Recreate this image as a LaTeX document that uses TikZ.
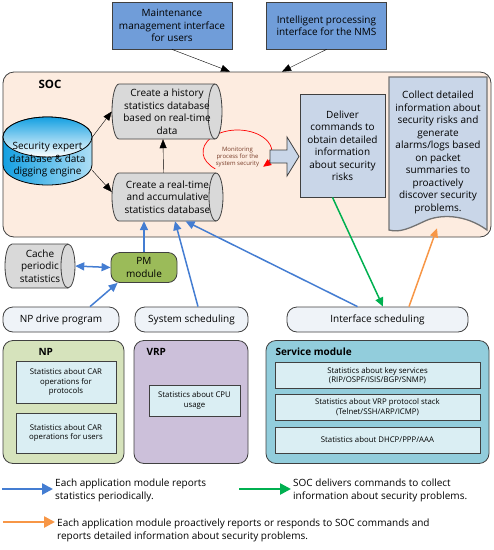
\documentclass[tikz,border=0pt]{standalone}
\usepackage{fontspec}
\setmainfont{Open Sans}
\usetikzlibrary{arrows.meta,calc,positioning,shapes.geometric}
\definecolor{TopBlue}{RGB}{112,157,217}
\definecolor{SocPeach}{RGB}{253,236,224}
\definecolor{CylGray}{RGB}{217,217,217}
\definecolor{SteelFill}{RGB}{201,214,232}
\definecolor{PMGreen}{RGB}{155,187,89}
\definecolor{SchedFill}{RGB}{239,243,248}
\definecolor{NPGreen}{RGB}{214,227,188}
\definecolor{VRPLilac}{RGB}{204,192,218}
\definecolor{SvcTeal}{RGB}{146,205,220}
\definecolor{StatFill}{RGB}{218,238,243}
\definecolor{ExpertCyan}{RGB}{20,160,226}
\definecolor{LineBlue}{RGB}{68,125,210}
\definecolor{LineGreen}{RGB}{0,176,80}
\definecolor{LineOrange}{RGB}{247,150,70}
\definecolor{DarkLine}{RGB}{64,64,64}
\definecolor{MonText}{RGB}{120,60,40}
\tikzset{
  topbox/.style={draw=DarkLine,fill=TopBlue,line width=.8pt,minimum width=120pt,minimum height=47pt,align=center,inner sep=0pt},
  drumline/.style={draw=DarkLine,fill=CylGray,line width=.8pt},
  steelbox/.style={draw=DarkLine,fill=SteelFill,line width=.8pt,align=center,inner sep=0pt},
  schedbox/.style={draw=DarkLine,fill=SchedFill,line width=.8pt,rounded corners=10pt,minimum height=25pt,inner sep=0pt},
  panel/.style={draw=DarkLine,line width=.8pt,rounded corners=10pt,minimum height=123pt},
  statbox/.style={draw=DarkLine,fill=StatFill,line width=.8pt,align=center,inner sep=0pt,font=\fontsize{7.8}{9.5}\selectfont},
  bluearrow/.style={LineBlue,line width=1.5pt,-{Triangle[length=9pt,width=8pt]}},
  blackarrow/.style={-{Triangle[length=9pt,width=7pt]}},
  legarrow/.style={line width=2.5pt,-{Triangle[length=11pt,width=11pt]}}
}
\newcommand{\panellabel}[3]{\node[font=\fontsize{10}{12}\selectfont\bfseries,anchor=west] (#1) at (#2) {#3};}
\newcommand{\drum}[6]{
\filldraw[drumline] ({#2-#4+7},{#3-#5}) -- ({#2+#4-7},{#3-#5}) arc[start angle=-90,end angle=90,x radius=7,y radius=#5] -- ({#2-#4+7},{#3+#5}) arc[start angle=90,end angle=270,x radius=7,y radius=#5] -- cycle;
\draw[drumline,fill=none] ({#2+#4-7},{#3-#5}) arc[start angle=270,end angle=90,x radius=7,y radius=#5];
\node[align=center,inner sep=0pt,minimum width={2*#4},minimum height={2*#5}] (#1) at (#2,#3) {#6};}

\begin{document}
\begin{tikzpicture}[x=1pt,y=-1pt,font=\fontsize{10}{12.5}\selectfont]
\useasboundingbox (0,0) rectangle (494,550);
\node[topbox] (mgmt) at (172,25.5) {Maintenance\\management interface\\for users};
\node[topbox] (nms) at (326.5,25.5) {Intelligent processing\\interface for the NMS};
\node[draw=DarkLine,fill=SocPeach,line width=.8pt,rounded corners=11pt,minimum width=488pt,minimum height=165pt] (soc) at (247,154.5) {};
\node[font=\fontsize{11.5}{13}\selectfont\bfseries] (soctitle) at (50,84) {SOC};
\draw[blackarrow] (mgmt.south) -- ([xshift=-17pt]soc.north);
\draw[blackarrow] (nms.south) -- ([xshift=35pt]soc.north);
\shadedraw[left color=ExpertCyan,right color=ExpertCyan!35,draw=black,line width=.8pt] (3,137) -- (3,165) arc[start angle=180,end angle=0,x radius=44.5,y radius=20] -- (92,137) arc[start angle=0,end angle=-180,x radius=44.5,y radius=20] -- cycle;
\shadedraw[top color=ExpertCyan,bottom color=white,draw=black,line width=.8pt] (47.5,137) ellipse[x radius=44.5,y radius=20];
\node[align=center,minimum width=89pt,minimum height=50pt,inner sep=0pt] (expert) at (47.5,160) {Security expert\\database \& data\\digging engine};
\node[font=\fontsize{6}{7.2}\selectfont,text=MonText,align=center,inner sep=0pt] (monitor) at (237.5,157) {Monitoring\\process for the\\system security};
\draw[red,line width=.7pt,-{Triangle[length=8pt,width=7pt]}] (monitor.center) ++(0,-5) ++(130:34.5 and 22) arc[start angle=130,end angle=402,x radius=34.5,y radius=22];
\drum{history}{167}{111.5}{55}{27.5}{Create a history\\statistics database\\based on real-time\\data}
\drum{realtime}{167.5}{197}{55.5}{24}{Create a real-time\\and accumulative\\statistics database}
\draw[blackarrow] (expert.27) -- (history.west);
\draw[blackarrow] (expert.-13) -- ([yshift=5pt]realtime.west);
\draw[blackarrow] ([xshift=-4pt]realtime.north) -- ([xshift=-4pt]history.south);
\draw[draw=DarkLine,fill=SteelFill,line width=.8pt] (270,150) -- (287,150) -- (287,137) -- (299,156.5) -- (287,176) -- (287,163) -- (270,163) -- cycle;
\node[steelbox,minimum width=85pt,minimum height=103pt] (deliver) at (342.5,145.5) {Deliver\\commands to\\obtain detailed\\information\\about security\\risks};
\draw[draw=gray!80!DarkLine,fill=SteelFill,line width=1.3pt] (389,77) -- (487,77) -- (487,230) .. controls (465,214) and (440,214) .. (425,221) .. controls (410,228) and (400,233) .. (389,230) -- cycle;
\node[align=center,minimum width=98pt,minimum height=151pt,inner sep=0pt] (collect) at (438,152.5) {Collect detailed\\information about\\security risks and\\generate\\alarms/logs based\\on packet\\summaries to\\proactively\\discover security\\problems.};
\drum{cache}{40}{266}{35}{22}{Cache\\periodic\\statistics}
\node[draw=DarkLine,fill=PMGreen,line width=.8pt,rounded corners=9pt,minimum width=66pt,minimum height=30pt,align=center,inner sep=0pt] (pm) at (144,267.5) {PM\\module};
\node[schedbox,minimum width=116pt] (npdrive) at (61,319.5) {NP drive program};
\node[schedbox,minimum width=113pt] (syssched) at (191.5,319.5) {System scheduling};
\node[schedbox,minimum width=181pt] (ifsched) at (377.5,319.5) {Interface scheduling};
\draw[bluearrow,{Triangle[length=9pt,width=8pt]}-{Triangle[length=9pt,width=8pt]}] (cache.east) -- (pm.west);
\draw[bluearrow] ([xshift=29pt]npdrive.north) -- ([xshift=7pt]pm.south west);
\draw[bluearrow] (pm.north) -- (pm.north |- realtime.south);
\draw[bluearrow] ([xshift=6.5pt]syssched.north) -- ([xshift=7.5pt]realtime.south);
\draw[bluearrow] ([xshift=-20pt]ifsched.north) -- ([xshift=18pt]realtime.south);
\draw[LineGreen,line width=1.5pt,-{Triangle[length=9pt,width=8pt]}] ([xshift=-10pt]deliver.south) -- ([xshift=5.5pt]ifsched.north);
\draw[LineOrange,line width=1.5pt,-{Triangle[length=9pt,width=8pt]}] ([xshift=31.5pt]ifsched.north) -- ([xshift=-1pt]collect.south);
\node[panel,fill=NPGreen,minimum width=121pt] (np) at (63.5,402) {};
\node[panel,fill=VRPLilac,minimum width=114pt] (vrp) at (191,402) {};
\node[panel,fill=SvcTeal,minimum width=223pt] (svc) at (377.5,402) {};
\panellabel{nplabel}{35,352}{NP}
\panellabel{vrplabel}{143,352}{VRP}
\panellabel{svclabel}{272,352}{Service module}
\node[statbox,minimum width=100pt,minimum height=42pt] (carproto) at (66,382) {Statistics about CAR\\operations for\\protocols};
\node[statbox,minimum width=100pt,minimum height=40pt] (caruser) at (66,433) {Statistics about CAR\\operations for users};
\node[statbox,minimum width=91pt,minimum height=31pt] (cpu) at (194.5,400.5) {Statistics about CPU\\usage};
\foreach \n/\y/\t in {keysvc/375.5/{Statistics about key services\\(RIP/OSPF/ISIS/BGP/SNMP)},stack/407/{Statistics about VRP protocol stack\\(Telnet/SSH/ARP/ICMP)},dhcp/440/{Statistics about DHCP/PPP/AAA}}{
  \node[statbox,minimum width=205pt,minimum height=26pt] (\n) at (377.5,\y) {\t};
}
\coordinate (legblue) at (2,489);
\coordinate (leggreen) at (239,489);
\coordinate (legorange) at (3,522);
\node[anchor=west,align=left,inner sep=2pt] (legbluetext) at (53,490.5) {Each application module reports\\statistics periodically.};
\node[anchor=west,align=left,inner sep=2pt] (leggreentext) at (291,490.5) {SOC delivers commands to collect\\information about security problems.};
\node[anchor=west,align=left,inner sep=2pt] (legorangetext) at (55,530.5) {Each application module proactively reports or responds to SOC commands and\\reports detailed information about security problems.};
\draw[legarrow,LineBlue] (legblue) -- (legblue -| legbluetext.west);
\draw[legarrow,LineGreen] (leggreen) -- (leggreen -| leggreentext.west);
\draw[legarrow,LineOrange] (legorange) -- (legorange -| legorangetext.west);
\end{tikzpicture}
\end{document}
